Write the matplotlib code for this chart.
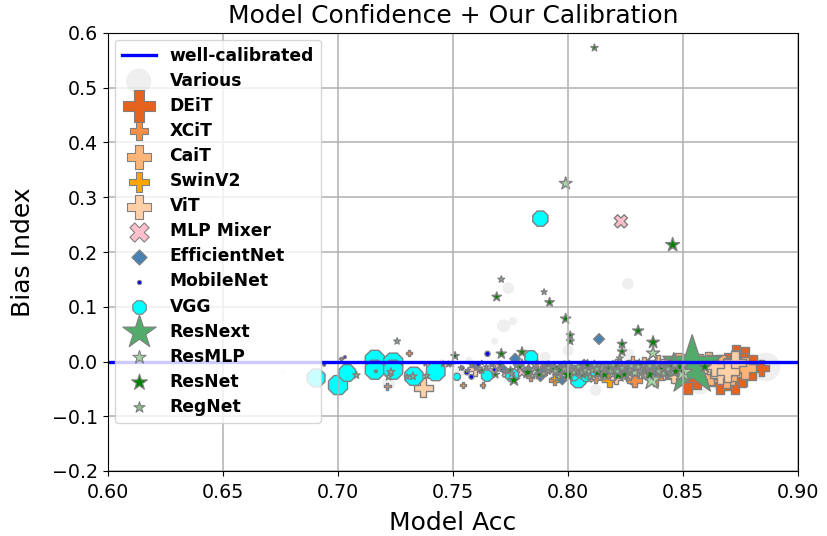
import matplotlib
matplotlib.use('Agg')
import matplotlib.pyplot as plt
from matplotlib.colors import to_rgba

# acc, bias index, marker size per family
various_x = [0.886, 0.880, 0.857, 0.867, 0.850, 0.826, 0.774, 0.772, 0.776, 0.768, 0.745, 0.676, 0.812, 0.795, 0.800, 0.768, 0.722, 0.735, 0.757, 0.790, 0.826, 0.753, 0.785, 0.805, 0.838]
various_y = [-0.010, -0.012, -0.034, -0.040, -0.012, 0.142, 0.134, 0.065, 0.074, 0.037, 0.000, -0.018, -0.052, -0.028, 0.020, -0.012, -0.040, -0.028, 0.002, 0.008, 0.012, -0.018, -0.026, -0.012, -0.020]
various_s = [430, 330, 420, 200, 300, 70, 70, 90, 35, 25, 15, 6, 70, 90, 60, 60, 90, 60, 30, 60, 90, 60, 60, 60, 90]

deit_x = [0.852, 0.856, 0.8725, 0.8757, 0.880, 0.877, 0.873, 0.869, 0.866, 0.862, 0.884, 0.870, 0.859, 0.8655, 0.828]
deit_y = [-0.036, -0.030, -0.037, -0.025, -0.012, 0.005, 0.008, -0.030, -0.038, -0.020, -0.012, -0.012, -0.012, -0.008, -0.028]
deit_s = [320, 260, 300, 300, 300, 300, 280, 300, 300, 280, 130, 300, 260, 260, 100]

xcit_x = [0.775, 0.7835, 0.794, 0.807, 0.815, 0.826, 0.829, 0.833, 0.838, 0.844, 0.836, 0.842, 0.849, 0.820, 0.812, 0.7544, 0.763, 0.7214, 0.7309, 0.7013, 0.803, 0.788]
xcit_y = [-0.020, -0.028, -0.034, -0.016, -0.020, -0.024, -0.034, -0.012, -0.030, -0.020, -0.020, -0.008, -0.012, -0.018, -0.030, -0.043, -0.043, -0.045, 0.015, 0.006, -0.018, -0.012]
xcit_s = [50, 40, 50, 60, 60, 80, 110, 90, 120, 90, 110, 90, 100, 60, 50, 20, 14, 24, 18, 5, 50, 40]

cait_x = [0.828, 0.833, 0.839, 0.843, 0.848, 0.852, 0.857, 0.861, 0.864, 0.867, 0.871, 0.873, 0.877, 0.847, 0.862, 0.869, 0.8355]
cait_y = [0.000, -0.004, -0.002, -0.008, -0.003, -0.012, -0.006, -0.002, -0.018, -0.008, -0.022, 0.000, -0.012, -0.015, -0.026, -0.030, -0.016]
cait_s = [60, 90, 110, 180, 220, 200, 220, 220, 240, 250, 260, 270, 260, 160, 190, 200, 110]

swin_x = [0.818, 0.8265, 0.836, 0.864, 0.868, 0.845, 0.794, 0.803]
swin_y = [-0.034, -0.024, -0.020, -0.018, -0.022, -0.018, -0.030, -0.018]
swin_s = [100, 60, 100, 110, 110, 60, 25, 25]

vit_x = [0.737, 0.7596, 0.790, 0.811, 0.821, 0.833, 0.841, 0.846, 0.851, 0.858, 0.862, 0.866, 0.8725, 0.8635, 0.8695, 0.8, 0.821]
vit_y = [-0.048, -0.014, -0.016, -0.022, -0.030, -0.016, -0.010, -0.026, -0.002, -0.016, -0.006, -0.024, -0.002, -0.008, -0.018, -0.009, -0.004]
vit_s = [190, 90, 50, 70, 70, 120, 140, 120, 170, 180, 190, 200, 280, 200, 240, 40, 40]

mixer_x = [0.823, 0.767, 0.7695, 0.78, 0.815, 0.7975, 0.809, 0.826, 0.773, 0.787, 0.820]
mixer_y = [0.256, -0.019, -0.008, -0.019, -0.025, -0.014, -0.030, -0.024, -0.022, -0.010, -0.014]
mixer_s = [90, 35, 40, 45, 50, 40, 40, 50, 30, 35, 40]

effnet_x = [0.8135, 0.760, 0.777, 0.788, 0.7825, 0.790, 0.799, 0.807, 0.815, 0.824, 0.830, 0.838, 0.845, 0.772, 0.835, 0.7975]
effnet_y = [0.041, -0.008, 0.005, -0.028, -0.018, -0.016, -0.012, -0.006, -0.022, -0.018, -0.010, -0.018, -0.014, -0.014, -0.004, -0.034]
effnet_s = [30, 18, 30, 22, 30, 30, 30, 30, 35, 30, 40, 40, 35, 20, 25, 22]

mobilenet_x = [0.765, 0.761, 0.7455, 0.756, 0.758, 0.762, 0.768, 0.754, 0.703, 0.694, 0.771, 0.786, 0.810]
mobilenet_y = [0.014, -0.005, -0.012, -0.020, -0.028, -0.018, -0.015, -0.012, 0.008, -0.006, -0.013, 0.001, -0.005]
mobilenet_s = [14, 10, 5, 12, 12, 8, 8, 8, 4, 4, 8, 10, 6]

vgg_x = [0.788, 0.6905, 0.700, 0.704, 0.716, 0.716, 0.724, 0.724, 0.733, 0.7425, 0.7517, 0.7648, 0.7757, 0.784, 0.8045, 0.808, 0.8115, 0.8025]
vgg_y = [0.261, -0.030, -0.043, -0.021, 0.003, -0.015, -0.002, -0.015, -0.027, -0.018, -0.028, -0.026, -0.025, 0.008, -0.034, -0.026, -0.020, -0.026]
vgg_s = [140, 190, 220, 170, 220, 220, 220, 220, 200, 210, 30, 75, 100, 100, 140, 80, 40, 60]

resnext_x = [0.854, 0.846, 0.783, 0.793, 0.808, 0.828, 0.838, 0.8265]
resnext_y = [-0.008, -0.012, -0.014, -0.012, -0.010, -0.016, -0.010, -0.013]
resnext_s = [2000, 500, 60, 80, 70, 130, 120, 70]

resmlp_x = [0.799, 0.8365, 0.850, 0.837, 0.846, 0.791, 0.829, 0.8195, 0.809]
resmlp_y = [0.325, -0.034, -0.020, 0.015, -0.018, -0.016, -0.020, -0.022, -0.018]
resmlp_s = [90, 220, 220, 100, 90, 50, 70, 70, 50]

resnet_x = [0.8115, 0.8455, 0.799, 0.8235, 0.8235, 0.8305, 0.837, 0.769, 0.792, 0.801, 0.801, 0.7509, 0.771, 0.78, 0.7765, 0.7495, 0.7457, 0.748,
            0.7625, 0.7685, 0.775, 0.7825, 0.787, 0.7915, 0.796, 0.8, 0.8045, 0.8085, 0.813, 0.8175, 0.822, 0.8265, 0.831, 0.8355, 0.84, 0.8445, 0.8487, 0.8595,
            0.7705, 0.779, 0.7875, 0.794, 0.7985, 0.803, 0.8065, 0.811, 0.816, 0.8205, 0.8245, 0.8335, 0.8425, 0.8468]
resnet_y = [0.573, 0.213, 0.078, 0.032, 0.018, 0.056, 0.035, 0.118, 0.108, 0.048, 0.037, 0.010, 0.014, 0.017, -0.034, -0.005, -0.005, -0.005,
            -0.016, -0.024, -0.016, -0.020, -0.016, -0.008, -0.016, -0.024, -0.014, -0.006, -0.020, -0.012, -0.024, -0.014, -0.006, -0.024, -0.014, -0.008, -0.012, -0.010,
            -0.006, -0.010, -0.024, -0.012, -0.008, -0.020, -0.024, -0.010, -0.024, -0.008, -0.024, -0.016, -0.020, -0.018]
resnet_s = [30, 110, 60, 50, 50, 70, 90, 50, 50, 35, 35, 40, 60, 60, 80, 20, 20, 20,
            25, 35, 35, 90, 40, 50, 80, 130, 50, 60, 90, 50, 130, 60, 70, 90, 70, 130, 150, 80,
            30, 40, 50, 90, 50, 60, 50, 40, 80, 50, 60, 60, 70, 70]

regnet_x = [0.771, 0.7896, 0.78, 0.7257, 0.708, 0.723, 0.722, 0.73, 0.7326, 0.7385, 0.7165, 0.738, 0.8285, 0.7565, 0.76, 0.773, 0.7935, 0.8035, 0.8165, 0.8105, 0.827, 0.8225, 0.7825, 0.758, 0.767, 0.7625, 0.8435,
            0.7535, 0.7645, 0.77, 0.7775, 0.7855, 0.7895, 0.798, 0.8015, 0.806, 0.8135, 0.8185, 0.8295, 0.832, 0.8385, 0.8415, 0.8505, 0.7755, 0.7845, 0.796, 0.8095, 0.8155, 0.8255, 0.8345,
            0.7915, 0.7945, 0.8005, 0.8045, 0.8075, 0.8115, 0.8145, 0.8195, 0.8235, 0.8275, 0.8315, 0.8355, 0.8395, 0.8435, 0.8465, 0.7985, 0.8025, 0.8125, 0.8215, 0.8305]
regnet_y = [0.150, 0.127, -0.002, 0.037, -0.025, -0.019, -0.028, -0.028, -0.027, -0.026, -0.018, -0.005, -0.008, -0.016, -0.012, -0.018, -0.008, -0.014, -0.006, -0.016, -0.016, 0.006, -0.012, -0.006, -0.006, -0.002, -0.006,
            -0.012, -0.010, -0.014, -0.008, -0.006, -0.022, -0.006, -0.010, -0.020, -0.008, -0.018, -0.012, -0.020, -0.006, -0.022, -0.006, -0.022, -0.026, -0.028, -0.028, -0.016, -0.006, -0.012,
            -0.012, -0.018, -0.006, -0.010, -0.016, -0.006, -0.012, -0.006, -0.012, -0.008, -0.016, -0.008, -0.018, -0.014, -0.006, -0.014, -0.020, -0.014, -0.018, -0.010]
regnet_s = [25, 20, 25, 25, 30, 35, 30, 20, 35, 25, 6, 10, 30, 12, 15, 15, 18, 20, 25, 30, 30, 25, 15, 12, 14, 10, 30,
            15, 18, 22, 20, 25, 30, 25, 30, 35, 30, 35, 40, 40, 35, 40, 50, 25, 25, 30, 30, 35, 35, 40,
            35, 40, 40, 45, 40, 45, 45, 40, 45, 50, 45, 50, 50, 45, 50, 40, 40, 45, 45, 50]

# name, x, y, size, marker, face, legend size, face alpha
families = [
    ('Various', various_x, various_y, various_s, 'o', 'lightgray', 330, 0.35),
    ('DEiT', deit_x, deit_y, deit_s, 'P', '#e6621f', 500, 1),
    ('XCiT', xcit_x, xcit_y, xcit_s, 'P', '#f98e46', 170, 1),
    ('CaiT', cait_x, cait_y, cait_s, 'P', '#fdb577', 300, 1),
    ('SwinV2', swin_x, swin_y, swin_s, 'P', 'orange', 190, 1),
    ('ViT', vit_x, vit_y, vit_s, 'P', '#fdd0a8', 275, 1),
    ('MLP Mixer', mixer_x, mixer_y, mixer_s, 'X', 'pink', 190, 1),
    ('EfficientNet', effnet_x, effnet_y, effnet_s, 'D', 'steelblue', 60, 1),
    ('MobileNet', mobilenet_x, mobilenet_y, mobilenet_s, 'o', 'blue', 9, 1),
    ('VGG', vgg_x, vgg_y, vgg_s, '8', 'cyan', 110, 1),
    ('ResNext', resnext_x, resnext_y, resnext_s, '*', '#52ab6b', 640, 1),
    ('ResMLP', resmlp_x, resmlp_y, resmlp_s, '*', '#a5d4a5', 100, 1),
    ('ResNet', resnet_x, resnet_y, resnet_s, '*', 'green', 145, 1),
    ('RegNet', regnet_x, regnet_y, regnet_s, '*', '#8fc08f', 70, 1),
]

fig = plt.figure(figsize=(8.27, 5.36), dpi=100)
ax = fig.add_axes([108 / 827, 1 - 471 / 536, 690 / 827, 438 / 536])

ax.plot([0.6, 0.9], [0, 0], color='blue', lw=2.4, label='well-calibrated')
for name, xs, ys, ss, marker, color, legend_s, alpha in families:
    edge = 'none' if name == 'Various' else 'gray'
    ax.scatter(xs, ys, s=ss, marker=marker, facecolors=[to_rgba(color, alpha)], edgecolors=edge,
               linewidths=1, label=name)

ax.set_xlim(0.6, 0.9)
ax.set_ylim(-0.2, 0.6)
ax.set_xticks([0.60, 0.65, 0.70, 0.75, 0.80, 0.85, 0.90])
ax.grid(True, color='#b0b0b0', lw=1.1)
ax.tick_params(labelsize=13.7)
ax.tick_params(axis='x', pad=5.5)
ax.set_xlabel('Model Acc', fontsize=18, labelpad=6)
ax.set_ylabel('Bias Index', fontsize=18, labelpad=12)
ax.set_title('Model Confidence + Our Calibration', fontsize=18, pad=7)

leg = ax.legend(loc='upper left', prop={'weight': 'bold', 'size': 12.3}, framealpha=0.8,
                labelspacing=0.415, borderaxespad=0.4)
for handle, fam in zip(leg.legend_handles[1:], families):
    handle.set_sizes([fam[6]])
    handle.set_linewidths([0.8])

fig.savefig('out.png', dpi=100)
